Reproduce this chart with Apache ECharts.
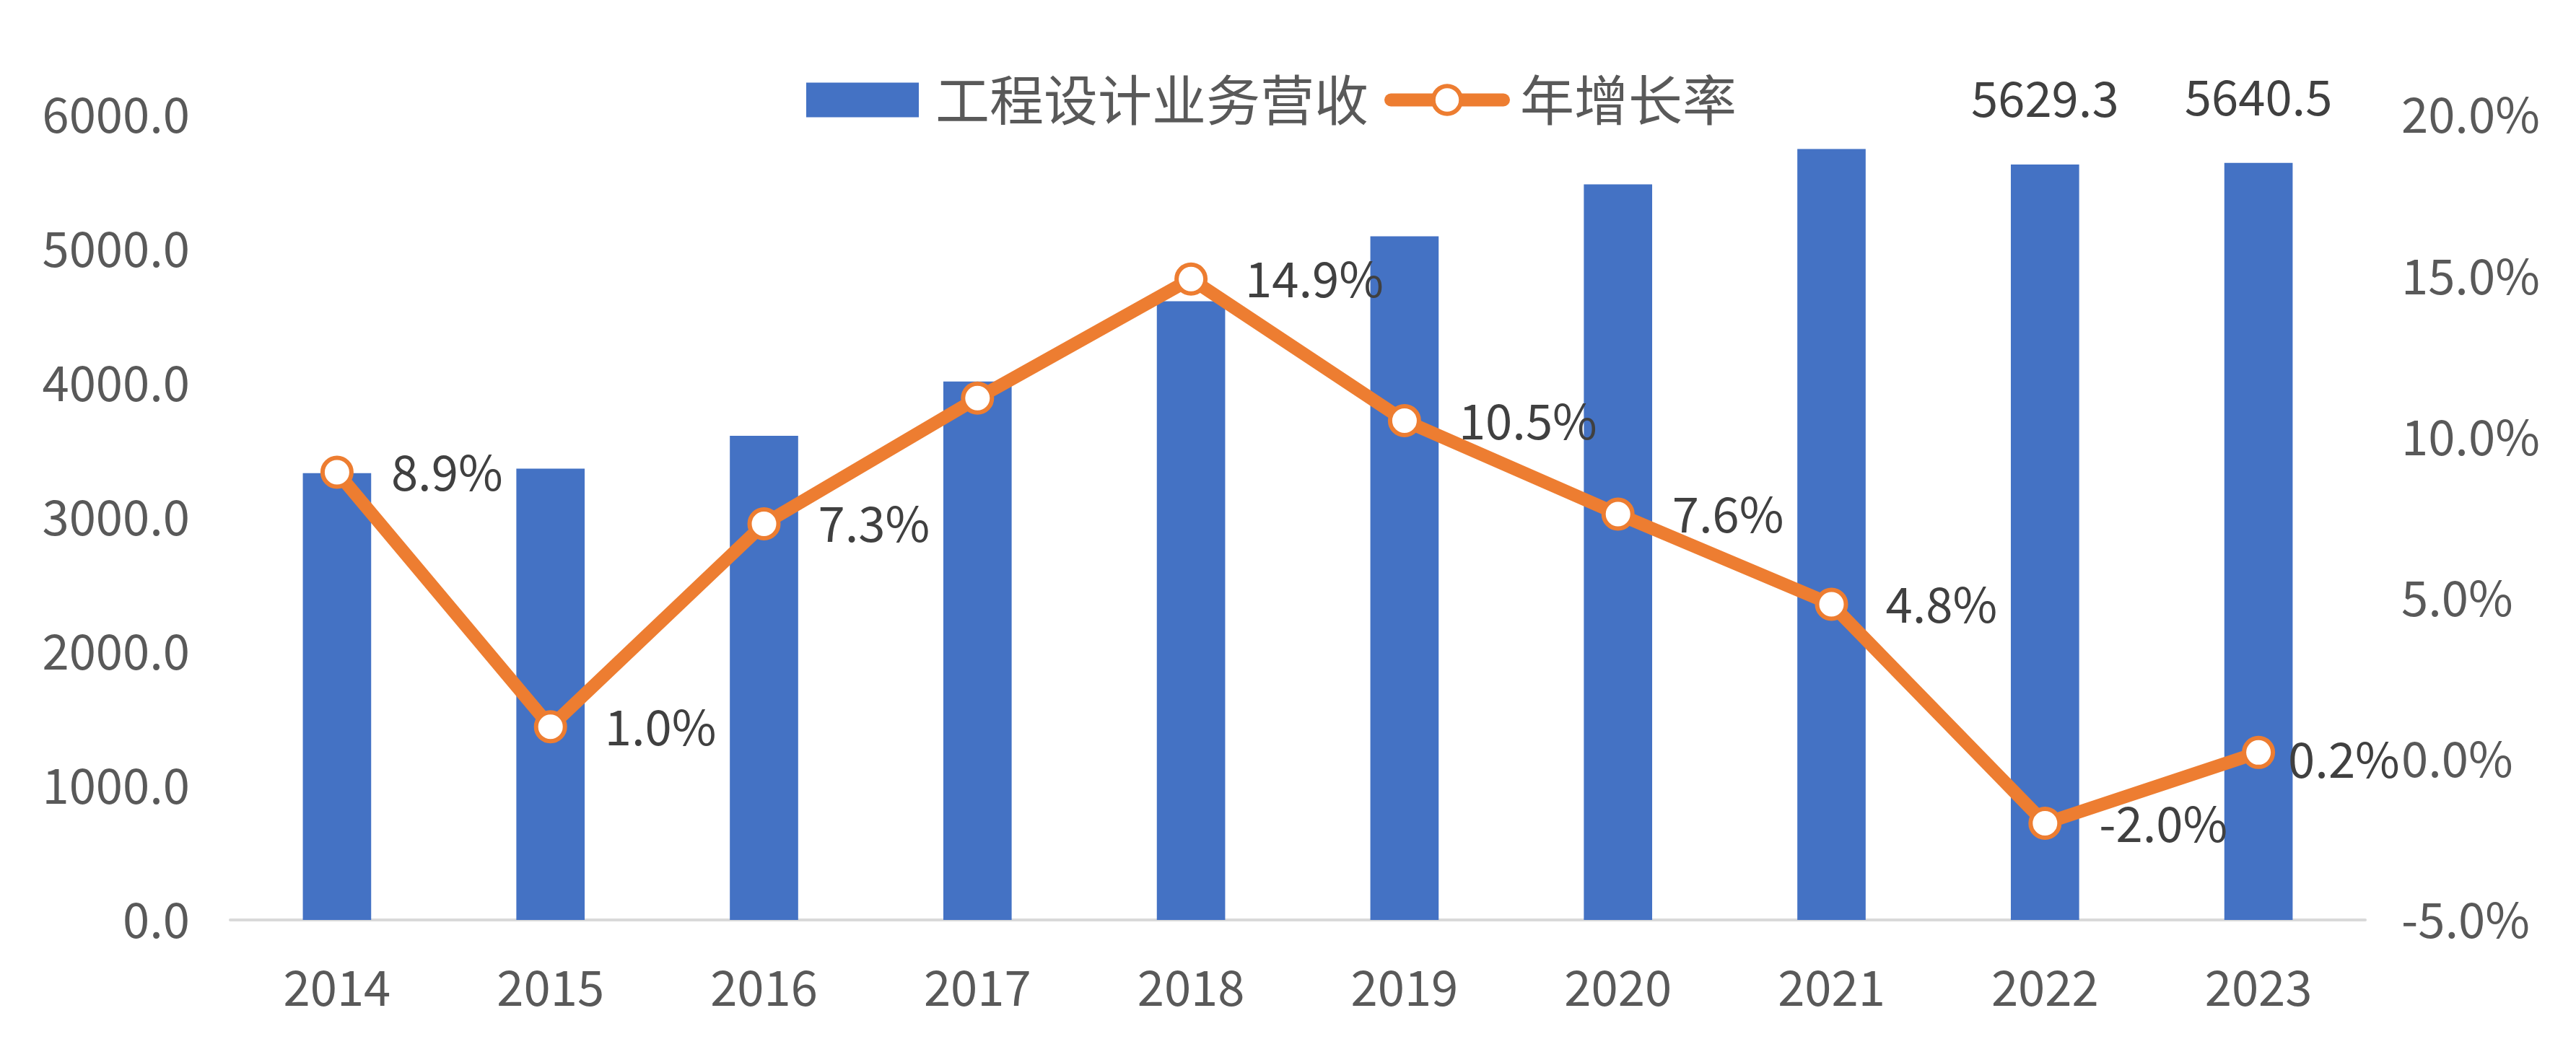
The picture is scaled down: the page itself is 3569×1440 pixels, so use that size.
<!DOCTYPE html>
<html>
<head>
<meta charset="utf-8">
<script src="https://cdn.jsdelivr.net/npm/echarts@6/dist/echarts.min.js"></script>
<style>
html,body{margin:0;padding:0;background:#fff;}
#chart{width:3569px;height:1440px;}
</style>
</head>
<body>
<div id="chart"></div>
<script>
var years = ['2014','2015','2016','2017','2018','2019','2020','2021','2022','2023'];
var revenue = [3329, 3363, 3608, 4012, 4610, 5094, 5481, 5744, 5629.3, 5640.5];
var growth = [8.9, 1.0, 7.3, 11.2, 14.9, 10.5, 7.6, 4.8, -2.0, 0.2];
var revenueLabelShown = [false, false, false, false, false, false, false, false, true, true];
var growthLabelShown = [true, true, true, false, true, true, true, true, true, true];
var leftTicks = {min: 0, max: 6000, interval: 1000};
var rightTicks = {min: -5, max: 20, interval: 5};

var FONT = '"Noto Sans CJK SC", "Noto Sans", sans-serif';

var barData = revenue.map(function (v, i) {
  return {value: v, label: {show: revenueLabelShown[i]}};
});
var lineData = growth.map(function (v, i) {
  var lbl = {show: growthLabelShown[i]};
  if (i === growth.length - 1) { lbl.distance = 18; lbl.offset = [0, 10]; }
  return {value: v, label: lbl};
});

var chart = echarts.init(document.getElementById('chart'), null, {renderer: 'canvas'});
chart.setOption({
  backgroundColor: '#ffffff',
  animation: false,
  textStyle: {fontFamily: FONT},
  legend: {
    top: 96,
    left: 1112,
    itemWidth: 156,
    itemHeight: 48,
    itemGap: 22,
    textStyle: {fontFamily: FONT, fontSize: 75, color: '#595959', padding: [0, 0, 0, 18]},
    data: [
      {name: '工程设计业务营收', icon: 'rect'},
      {name: '年增长率',
        lineStyle: {color: '#ED7D31', width: 18, cap: 'round'},
        itemStyle: {color: '#ffffff', borderColor: '#ED7D31', borderWidth: 6}}
    ]
  },
  grid: {left: 319, right: 292, top: 159, bottom: 165, containLabel: false},
  xAxis: {
    type: 'category',
    data: years,
    axisLine: {lineStyle: {color: '#D9D9D9', width: 4}},
    axisTick: {show: false},
    axisLabel: {fontFamily: FONT, fontSize: 67, color: '#595959', margin: 60}
  },
  yAxis: [
    {
      type: 'value',
      min: leftTicks.min, max: leftTicks.max, interval: leftTicks.interval,
      axisLine: {show: false},
      axisTick: {show: false},
      splitLine: {show: false},
      axisLabel: {fontFamily: FONT, fontSize: 67, color: '#595959', margin: 56,
        formatter: function (v) { return v.toFixed(1); }}
    },
    {
      type: 'value',
      min: rightTicks.min, max: rightTicks.max, interval: rightTicks.interval,
      axisLine: {show: false},
      axisTick: {show: false},
      splitLine: {show: false},
      axisLabel: {fontFamily: FONT, fontSize: 67, color: '#595959', margin: 50,
        formatter: function (v) { return v.toFixed(1) + '%'; }}
    }
  ],
  series: [
    {
      name: '工程设计业务营收',
      type: 'bar',
      yAxisIndex: 0,
      barWidth: '32%',
      itemStyle: {color: '#4472C4'},
      label: {
        position: 'top', distance: 58,
        fontFamily: FONT, fontSize: 67, color: '#404040',
        formatter: function (p) { return p.value.toFixed(1); }
      },
      data: barData
    },
    {
      name: '年增长率',
      type: 'line',
      yAxisIndex: 1,
      z: 5,
      symbol: 'circle',
      symbolSize: 40,
      lineStyle: {color: '#ED7D31', width: 18},
      itemStyle: {color: '#ffffff', borderColor: '#ED7D31', borderWidth: 6},
      label: {
        position: 'right', distance: 52,
        fontFamily: FONT, fontSize: 67, color: '#404040',
        formatter: function (p) { return p.value.toFixed(1) + '%'; }
      },
      data: lineData
    }
  ]
});
</script>
</body>
</html>
